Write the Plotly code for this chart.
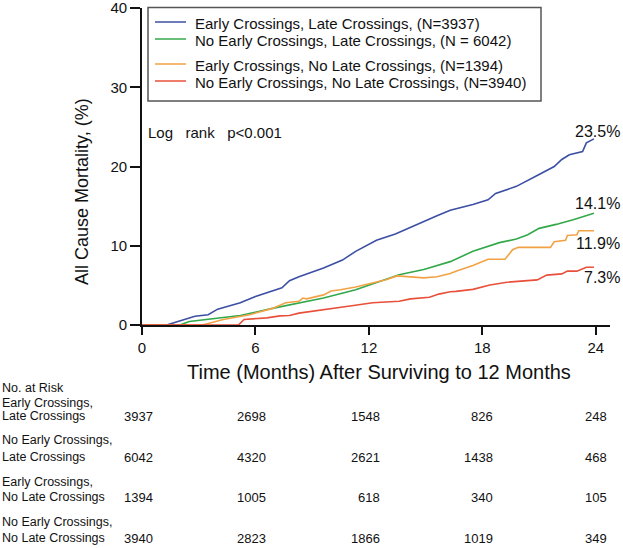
import plotly.graph_objects as go

# ---------------- data ----------------
series_names = [
    "Early Crossings, Late Crossings, (N=3937)",
    "No Early Crossings, Late Crossings, (N = 6042)",
    "Early Crossings, No Late Crossings, (N=1394)",
    "No Early Crossings, No Late Crossings, (N=3940)",
]
series_colors = ["#3C4FA3", "#33A84A", "#F2A245", "#E8503A"]
end_labels = ["23.5%", "14.1%", "11.9%", "7.3%"]

t_el = [0, 1.3, 2.8, 3.5, 4.0, 4.5, 5.2, 6.0, 7.4, 7.8, 8.3, 9.6, 10.6, 11.3, 12.4, 13.4, 14.5,
        15.6, 16.3, 17.5, 18.3, 18.7, 19.8, 20.4, 21.0, 21.8, 22.2, 22.6, 23.3, 23.5, 23.9]
y_el = [0, 0, 1.1, 1.3, 2.0, 2.3, 2.8, 3.6, 4.7, 5.6, 6.1, 7.2, 8.2, 9.3, 10.7, 11.5, 12.7,
        13.8, 14.5, 15.2, 15.8, 16.6, 17.5, 18.3, 19.0, 20.0, 20.9, 21.5, 21.9, 23.0, 23.5]

t_nel = [0, 2.0, 2.5, 5.2, 6.9, 8.3, 9.6, 11.3, 12.6, 13.6, 14.9, 16.3, 17.5, 18.9, 19.8, 20.4,
         21.0, 21.9, 22.8, 23.9]
y_nel = [0, 0, 0.45, 1.2, 2.1, 2.8, 3.4, 4.45, 5.5, 6.35, 7.0, 8.0, 9.3, 10.4, 10.85, 11.4,
         12.2, 12.7, 13.3, 14.1]

t_enl = [0, 3.2, 4.3, 5.7, 6.9, 7.6, 8.3, 8.5, 8.7, 9.2, 9.6, 10.0, 10.5, 11.3, 12.2, 12.9, 13.5,
         14.2, 14.9, 15.6, 16.3, 16.6, 17.5, 18.3, 19.2, 19.6, 19.9, 21.6, 21.8, 22.4, 22.5, 23.0,
         23.1, 23.9]
y_enl = [0, 0, 0.7, 1.3, 2.1, 2.8, 3.0, 3.4, 3.3, 3.6, 3.8, 4.3, 4.45, 4.8, 5.3, 5.7, 6.2,
         6.05, 5.95, 6.1, 6.5, 6.8, 7.5, 8.3, 8.3, 9.5, 9.8, 9.8, 10.5, 10.7, 11.3, 11.4,
         11.9, 11.9]

t_nenl = [0, 5.1, 5.4, 6.6, 7.3, 7.8, 8.3, 9.6, 11.0, 12.2, 13.6, 14.2, 15.2, 15.7, 16.3, 16.6,
          17.5, 18.4, 19.3, 20.9, 21.4, 22.2, 22.5, 23.0, 23.5, 23.9]
y_nenl = [0, 0, 0.7, 0.9, 1.15, 1.2, 1.5, 1.9, 2.4, 2.8, 3.0, 3.3, 3.5, 3.9, 4.2, 4.25,
          4.5, 5.05, 5.4, 5.7, 6.3, 6.45, 6.8, 6.8, 7.3, 7.3]

series_t = [t_el, t_nel, t_enl, t_nenl]
series_y = [y_el, y_nel, y_enl, y_nenl]

x_ticks = [0, 6, 12, 18, 24]
y_ticks = [0, 10, 20, 30, 40]

risk_title = "No. at Risk"
risk_labels = [
    ["Early Crossings,", "Late Crossings"],
    ["No Early Crossings,", "Late Crossings"],
    ["Early Crossings,", "No Late Crossings"],
    ["No Early Crossings,", "No Late Crossings"],
]
risk_months = [0, 6, 12, 18, 24]
risk_el = [3937, 2698, 1548, 826, 248]
risk_nel = [6042, 4320, 2621, 1438, 468]
risk_enl = [1394, 1005, 618, 340, 105]
risk_nenl = [3940, 2823, 1866, 1019, 349]
risk_rows = [risk_el, risk_nel, risk_enl, risk_nenl]

# ---------------- layout helpers ----------------
W, H = 623, 548
L, R, T, B = 142, 13, 8, 223
PW, PH = W - L - R, H - T - B
FONT = "Liberation Sans, Arial, Helvetica, sans-serif"


def px(xp):
    return (xp - L) / PW


def py(yp):
    return (H - B - yp) / PH


fig = go.Figure()
for name, color, tt, yy in zip(series_names, series_colors, series_t, series_y):
    fig.add_trace(go.Scatter(x=tt, y=yy, mode="lines", name=name,
                             line=dict(color=color, width=1.6), cliponaxis=False,
                             showlegend=False, hoverinfo="skip"))

annotations = []
shapes = []

# legend box, sample lines and texts
shapes.append(dict(type="rect", xref="paper", yref="paper",
                   x0=px(148), x1=px(541), y0=py(101), y1=py(7.5),
                   line=dict(color="#555555", width=1.5), fillcolor="rgba(0,0,0,0)"))
legend_rows = [23, 40, 65, 82]
for name, color, yr in zip(series_names, series_colors, legend_rows):
    shapes.append(dict(type="line", xref="paper", yref="paper",
                       x0=px(155), x1=px(186), y0=py(yr - 1), y1=py(yr - 1),
                       line=dict(color=color, width=1.5)))
    annotations.append(dict(xref="paper", yref="paper", x=px(193), y=py(yr),
                            xanchor="left", yanchor="middle", showarrow=False,
                            text=name, font=dict(family=FONT, size=15, color="#111")))

# Log rank
annotations.append(dict(xref="paper", yref="paper", x=px(146), y=py(132),
                        xanchor="left", yanchor="middle", showarrow=False,
                        text="Log&nbsp;&nbsp;&nbsp;rank&nbsp;&nbsp;&nbsp;p<0.001",
                        font=dict(family=FONT, size=15, color="#111")))

# end labels
for lab, ypix in zip(end_labels, [131, 204, 243, 277]):
    annotations.append(dict(xref="paper", yref="paper", x=px(622), y=py(ypix),
                            xanchor="right", yanchor="middle", showarrow=False,
                            text=lab, font=dict(family=FONT, size=16, color="#111")))

# axis titles
annotations.append(dict(xref="paper", yref="paper", x=px(379), y=py(372),
                        xanchor="center", yanchor="middle", showarrow=False,
                        text="Time (Months) After Surviving to 12 Months",
                        font=dict(family=FONT, size=20, color="#111")))
annotations.append(dict(xref="paper", yref="paper", x=px(82), y=py(192),
                        xanchor="center", yanchor="middle", showarrow=False, textangle=-90,
                        text="All Cause Mortality, (%)",
                        font=dict(family=FONT, size=18, color="#111")))

# number at risk table
annotations.append(dict(xref="paper", yref="paper", x=px(1), y=py(388),
                        xanchor="left", yanchor="middle", showarrow=False, borderpad=0,
                        text=risk_title, font=dict(family=FONT, size=12.5, color="#111")))
row_y = [(403, 416), (440, 457), (482, 497), (522, 538)]
for labs, vals, (y1, y2) in zip(risk_labels, risk_rows, row_y):
    annotations.append(dict(xref="paper", yref="paper", x=px(1), y=py(y1),
                            xanchor="left", yanchor="middle", showarrow=False, borderpad=0,
                            text=labs[0], font=dict(family=FONT, size=12.5, color="#111")))
    annotations.append(dict(xref="paper", yref="paper", x=px(1), y=py(y2),
                            xanchor="left", yanchor="middle", showarrow=False, borderpad=0,
                            text=labs[1], font=dict(family=FONT, size=12.5, color="#111")))
    for m, v in zip(risk_months, vals):
        annotations.append(dict(xref="x", yref="paper", x=m, y=py(y2), xshift=13,
                                xanchor="right", yanchor="middle", showarrow=False,
                                text=str(v), font=dict(family=FONT, size=13, color="#111")))

fig.update_layout(
    width=W, height=H,
    margin=dict(l=L, r=R, t=T, b=B, autoexpand=False),
    paper_bgcolor="white", plot_bgcolor="white",
    showlegend=False,
    font=dict(family=FONT, size=15, color="#111"),
    annotations=annotations, shapes=shapes,
)
fig.update_xaxes(range=[0, 24.75], tickvals=x_ticks, ticktext=[str(v) for v in x_ticks],
                 showline=True, linecolor="#111", linewidth=1.8, ticks="outside",
                 ticklen=8, tickwidth=1.5, tickcolor="#111", showgrid=False, zeroline=False,
                 tickfont=dict(family=FONT, size=15, color="#111"), layer="below traces",
                 ticklabeloverflow="allow", automargin=False)
fig.update_yaxes(range=[0, 40.02], tickvals=y_ticks, ticktext=[str(v) for v in y_ticks],
                 showline=True, linecolor="#111", linewidth=1.8, ticks="outside",
                 ticklen=10, tickwidth=1.5, tickcolor="#111", showgrid=False, zeroline=False,
                 tickfont=dict(family=FONT, size=15, color="#111"), layer="below traces",
                 ticklabeloverflow="allow", automargin=False)

fig.write_html("out.html", config={"displayModeBar": False},
               post_script="document.body.style.margin='0px';")
